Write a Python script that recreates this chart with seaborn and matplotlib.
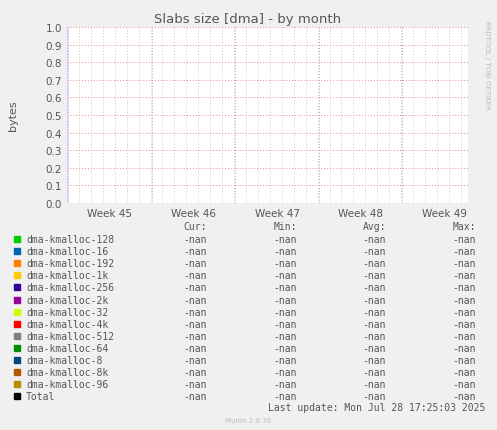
import numpy as np
import pandas as pd
import matplotlib.pyplot as plt
import seaborn as sns

series = ['dma-kmalloc-128', 'dma-kmalloc-16', 'dma-kmalloc-192', 'dma-kmalloc-1k',
          'dma-kmalloc-256', 'dma-kmalloc-2k', 'dma-kmalloc-32', 'dma-kmalloc-4k',
          'dma-kmalloc-512', 'dma-kmalloc-64', 'dma-kmalloc-8', 'dma-kmalloc-8k',
          'dma-kmalloc-96', 'Total']
colors = ['#00CC00', '#0066B3', '#FF8000', '#FFCC00', '#330099', '#990099', '#CCFF00',
          '#FF0000', '#808080', '#008F00', '#00487D', '#B35A00', '#B38F00', '#000000']
week_labels = ['Week 45', 'Week 46', 'Week 47', 'Week 48', 'Week 49']
week_centers = [3.6, 10.6, 17.6, 24.6, 31.6]  # days from left edge
x_max = 33.6

# all values are nan
days = [0.0, x_max]
df = pd.DataFrame([(d, s, np.nan) for s in series for d in days],
                  columns=['day', 'series', 'value'])

W, H = 497, 431
fig = plt.figure(figsize=(W / 100, H / 100), dpi=100, facecolor='#F0F0F0')
ax = fig.add_axes([67 / W, 1 - 204 / H, 401 / W, 176 / H])
ax.set_facecolor('white')

sns.lineplot(data=df, x='day', y='value', hue='series', palette=colors,
             legend=False, ax=ax)

ax.set_xlim(0, x_max)
ax.set_ylim(0, 1)
ax.set_yticks(np.arange(0, 1.01, 0.1))
ax.set_yticklabels([f'{v:.1f}' for v in np.arange(0, 1.01, 0.1)])
ax.set_xticks(week_centers)
ax.set_xticklabels(week_labels)
ax.tick_params(length=0, labelsize=7.5, colors='#555555')
ax.set_xticks(np.arange(1, x_max, 1), minor=True)
ax.tick_params(which='minor', length=0)
ax.grid(which='minor', axis='x', color='#C8C8C8', linestyle=(0, (1, 2)), linewidth=0.7)
for b in [0.1, 7.1, 14.1, 21.1, 28.1]:
    ax.axvline(b, color='#E09090', linestyle=(0, (1, 2)), linewidth=0.7)
ax.grid(which='major', axis='y', color='#E09090', linestyle=(0, (1, 2)), linewidth=0.7)
for s in ax.spines.values():
    s.set_visible(False)
ax.axhline(0, color='#CCCCCC', linewidth=0.8)
ax.axvline(0, color='#CCCCFF', linewidth=0.8)
ax.set_xlabel('')
ax.set_ylabel('bytes', fontsize=8, color='#555555', labelpad=20)

fig.text(248 / W, 1 - 19 / H, 'Slabs size [dma] - by month', ha='center', va='center',
         fontsize=9.5, color='#555555')
fig.text(487 / W, 1 - 65 / H, 'RRDTOOL / TOBI OETIKER', rotation=270, ha='center',
         va='center', fontsize=5, color='#BBBBBB')

mono = 'DejaVu Sans Mono'
fs = 7
tc = '#555555'
y0 = 227
for txt, xr in [('Cur:', 207), ('Min:', 297), ('Avg:', 386), ('Max:', 476)]:
    fig.text(xr / W, 1 - y0 / H, txt, ha='right', va='center', family=mono, fontsize=fs, color=tc)
for i, (name, c) in enumerate(zip(series, colors)):
    y = 1 - (240 + i * 12.1) / H
    fig.patches.append(plt.Rectangle((14 / W, y - 3 / H), 6 / W, 6 / H, color=c,
                                     transform=fig.transFigure, figure=fig))
    fig.text(26 / W, y, name, ha='left', va='center', family=mono, fontsize=fs, color=tc)
    for xr in [207, 297, 386, 476]:
        fig.text(xr / W, y, '-nan', ha='right', va='center', family=mono, fontsize=fs, color=tc)
fig.text(485 / W, 1 - 408 / H, 'Last update: Mon Jul 28 17:25:03 2025', ha='right',
         va='center', family=mono, fontsize=fs, color=tc)
fig.text(248 / W, 1 - 421 / H, 'Munin 2.0.76', ha='center', va='center',
         fontsize=5, color='#BBBBBB')

fig.savefig('out.png', dpi=100, facecolor=fig.get_facecolor())
